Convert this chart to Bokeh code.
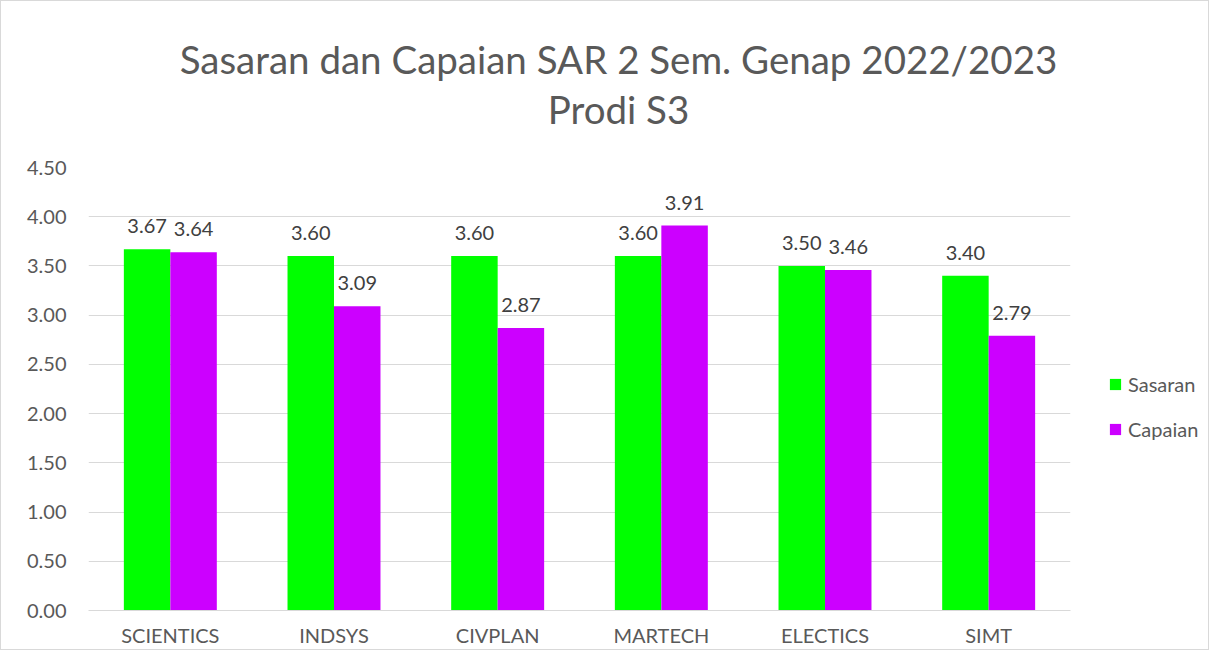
from bokeh.plotting import figure
from bokeh.layouts import row, column
from bokeh.models import (ColumnDataSource, FactorRange, Range1d, LabelSet, Legend, LegendItem,
                          FixedTicker, CustomJSTickFormatter, Label)
from bokeh.transform import dodge
from bokeh.core.properties import value
from bokeh.embed import file_html
from bokeh.resources import INLINE

categories = ["SCIENTICS", "INDSYS", "CIVPLAN", "MARTECH", "ELECTICS", "SIMT"]
sasaran = [3.67, 3.60, 3.60, 3.60, 3.50, 3.40]
capaian = [3.64, 3.09, 2.87, 3.91, 3.46, 2.79]
y_ticks = [0, 0.5, 1.0, 1.5, 2.0, 2.5, 3.0, 3.5, 4.0, 4.5]
series_names = ["Sasaran", "Capaian"]
title_line1 = "Sasaran dan Capaian SAR 2 Sem. Genap 2022/2023"
title_line2 = "Prodi S3"

FONT = "Lato"
GRAY = "#595959"
GREEN = "#00FF00"
PURPLE = "#CC00FF"

def bare(fig):
    fig.axis.visible = False
    fig.grid.visible = False
    fig.outline_line_color = None

# ---- title strip (pixel-like ranges) ----
TW, TH = 1207, 155
tf = figure(width=TW, height=TH, x_range=Range1d(0, TW), y_range=Range1d(0, TH),
            output_backend="svg", toolbar_location=None,
            min_border_left=0, min_border_right=0, min_border_top=0, min_border_bottom=0)
bare(tf)
tf.add_layout(Label(x=617, y=TH - 57, text=title_line1, text_align="center",
                    text_baseline="middle", text_font=FONT, text_font_size="38.5px",
                    text_color=GRAY))
tf.add_layout(Label(x=617, y=TH - 107, text=title_line2, text_align="center",
                    text_baseline="middle", text_font=FONT, text_font_size="38.5px",
                    text_color=GRAY))

# ---- main chart ----
src = ColumnDataSource(dict(
    cat=categories, s=sasaran, c=capaian,
    sl=["%.2f" % v for v in sasaran], cl=["%.2f" % v for v in capaian],
))

p = figure(x_range=FactorRange(*categories, range_padding=0), y_range=Range1d(0, 4.5),
           width=1090, height=493, output_backend="svg", toolbar_location=None,
           min_border_left=87, min_border_right=21, min_border_top=11, min_border_bottom=36)

bw = 0.284
p.vbar(x=dodge("cat", -bw / 2, range=p.x_range), top="s", width=bw, source=src,
       fill_color=GREEN, line_color=None)
p.vbar(x=dodge("cat", bw / 2, range=p.x_range), top="c", width=bw, source=src,
       fill_color=PURPLE, line_color=None)

for col, lab, off in (("s", "sl", -bw / 2), ("c", "cl", bw / 2)):
    p.add_layout(LabelSet(x=dodge("cat", off, range=p.x_range), y=col, text=lab, source=src,
                          text_align="center", text_baseline="bottom", y_offset=16,
                          text_font=value(FONT), text_font_size=value("20px"),
                          text_color="#404040"))

p.xgrid.grid_line_color = None
p.ygrid.grid_line_color = "#D9D9D9"
p.ygrid.grid_line_width = 1
p.outline_line_color = None

p.yaxis.ticker = FixedTicker(ticks=y_ticks)
p.yaxis.formatter = CustomJSTickFormatter(code="return tick.toFixed(2);")
p.yaxis.axis_line_color = None
for ax in (p.xaxis, p.yaxis):
    ax.major_label_text_font = FONT
    ax.major_label_text_font_size = "20px"
    ax.major_label_text_color = GRAY
    ax.major_tick_line_color = None
    ax.minor_tick_line_color = None
    ax.major_tick_out = 0
    ax.major_tick_in = 0
    ax.minor_tick_out = 0
    ax.minor_tick_in = 0
p.yaxis.major_label_standoff = 22
p.xaxis.axis_line_color = "#D9D9D9"
p.xaxis.major_label_standoff = 12

# ---- legend strip ----
lg = figure(width=117, height=493, x_range=Range1d(0, 1), y_range=Range1d(0, 1),
            output_backend="svg", toolbar_location=None,
            min_border_left=0, min_border_right=0, min_border_top=0, min_border_bottom=0)
bare(lg)
hidden = ColumnDataSource(dict(x=[-10], top=[0]))
g1 = lg.vbar(x="x", top="top", width=0.1, source=hidden, fill_color=GREEN, line_color=None)
g2 = lg.vbar(x="x", top="top", width=0.1, source=hidden, fill_color=PURPLE, line_color=None)
legend = Legend(items=[LegendItem(label=series_names[0], renderers=[g1]),
                       LegendItem(label=series_names[1], renderers=[g2])],
                location=(17, 169), orientation="vertical",
                label_text_font=FONT, label_text_font_size="20px", label_text_color=GRAY,
                glyph_width=14, glyph_height=14, label_height=20, spacing=21,
                label_standoff=6, padding=0, margin=0, border_line_color=None,
                background_fill_alpha=0)
lg.add_layout(legend, "center")

layout = column(tf, row(p, lg, spacing=0), spacing=0)
layout.styles = {"border": "1px solid #D9D9D9"}

open("out.html", "w").write(file_html(layout, INLINE))
